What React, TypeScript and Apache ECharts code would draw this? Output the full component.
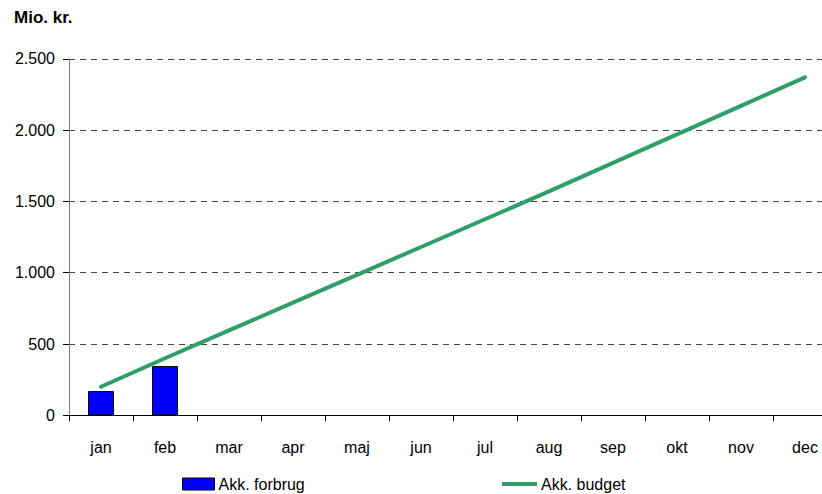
import React, { useEffect, useRef } from "react";
import * as echarts from "echarts";

const months = ["jan", "feb", "mar", "apr", "maj", "jun", "jul", "aug", "sep", "okt", "nov", "dec"];
const forbrug = [170, 345, null, null, null, null, null, null, null, null, null, null];
const budget = [200, 400, 595, 790, 985, 1180, 1375, 1570, 1770, 1970, 2170, 2370];
const yTicks = [0, 500, 1000, 1500, 2000, 2500];

const FONT = "'Liberation Sans', Arial, sans-serif";
const FS = 16;

export default function App() {
  const ref = useRef<HTMLDivElement>(null);
  useEffect(() => {
    document.body.style.margin = "0";
    document.body.style.overflow = "hidden";
    const chart = echarts.init(ref.current!, null, { renderer: "svg" });
    chart.setOption({
      animation: false,
      textStyle: { fontFamily: FONT, color: "#000" },
      title: {
        text: "Mio. kr.",
        left: 14,
        top: 9,
        padding: 0,
        textStyle: { fontFamily: FONT, fontSize: 17, fontWeight: "bold", color: "#000" },
      },
      grid: { left: 69, right: 0, top: 58.8, bottom: 78.7, containLabel: false },
      legend: [
        {
          data: [{ name: "Akk. forbrug", icon: "rect" }],
          left: 182,
          top: 476,
          padding: 0,
          itemWidth: 32,
          itemHeight: 12,
          itemGap: 0,
          textStyle: { fontFamily: FONT, fontSize: FS, color: "#000", padding: [0, 0, 0, -1] },
          itemStyle: { borderColor: "#000", borderWidth: 1 },
        },
        {
          data: [{ name: "Akk. budget", icon: "rect" }],
          left: 502,
          top: 476,
          padding: 0,
          itemWidth: 35,
          itemHeight: 4,
          itemGap: 0,
          textStyle: { fontFamily: FONT, fontSize: FS, color: "#000", padding: [0, 0, 0, -1] },
        },
      ],
      xAxis: {
        type: "category",
        data: months,
        boundaryGap: true,
        axisLine: { lineStyle: { color: "#000", width: 1 } },
        axisTick: { show: true, length: 6, lineStyle: { color: "#000" } },
        axisLabel: { margin: 24, fontSize: FS, color: "#000", fontFamily: FONT },
        splitLine: { show: false },
      },
      yAxis: {
        type: "value",
        min: 0,
        max: 2500,
        interval: 500,
        axisLine: { show: true, lineStyle: { color: "#808080", width: 1 } },
        axisTick: { show: true, length: 6, lineStyle: { color: "#000" } },
        axisLabel: {
          margin: 14,
          fontSize: FS,
          color: "#000",
          fontFamily: FONT,
          formatter: (v: number) => (yTicks.includes(v) ? v.toLocaleString("da-DK") : ""),
        },
        splitLine: { show: true, lineStyle: { color: "#444", type: [6, 5], width: 1 } },
      },
      series: [
        {
          name: "Akk. forbrug",
          type: "bar",
          data: forbrug,
          barWidth: 26,
          itemStyle: { color: "#0000ff", borderColor: "#000", borderWidth: 1 },
        },
        {
          name: "Akk. budget",
          type: "line",
          data: budget,
          symbol: "none",
          itemStyle: { color: "#2f9e68" },
          lineStyle: { color: "#2f9e68", width: 4, cap: "round" },
        },
      ],
    });
    return () => chart.dispose();
  }, []);
  return <div ref={ref} style={{ width: 837, height: 494 }} />;
}
